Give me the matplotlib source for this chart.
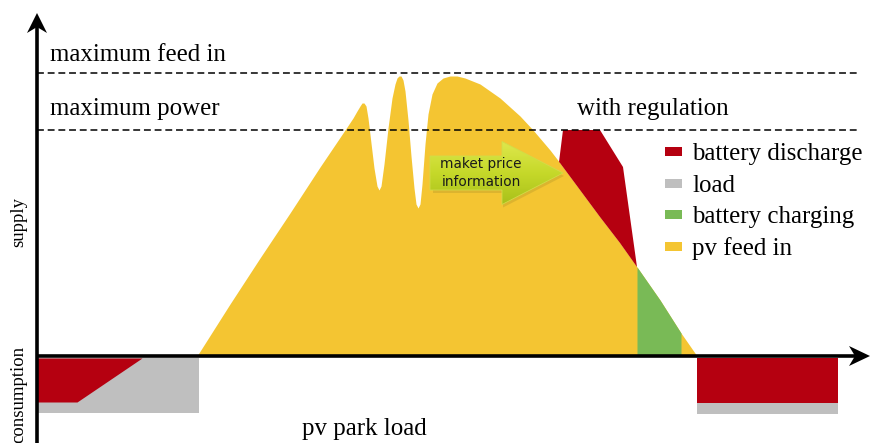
import numpy as np
import matplotlib
matplotlib.use('Agg')
import matplotlib.pyplot as plt
from matplotlib.patches import Rectangle, Polygon, FancyArrow
from matplotlib.colors import LinearSegmentedColormap

# schematic units: x = time, y = power (0 = grid axis, negative = consumption)
pv_t = [197, 230, 260, 290, 320, 345, 353, 357, 360, 362, 364, 366, 368, 371, 374, 377,
        379, 381, 384, 388, 392, 395, 397, 399, 401, 403, 405, 408, 411, 414, 416, 418,
        420, 422, 425, 428, 432, 437, 443, 450, 457, 465, 480, 500, 520, 533, 550, 560,
        580, 600, 620, 637, 660, 681, 697]
pv_p = [0, 52, 98, 143, 189, 226, 238, 245, 250, 253, 253, 250, 238, 213, 188, 170,
        166, 170, 192, 228, 258, 272, 278, 280, 280, 276, 265, 236, 200, 168, 152, 148,
        152, 172, 212, 242, 262, 273, 278, 280, 280, 278, 272, 258, 240, 226, 206, 193,
        166, 139, 113, 89, 56, 23, 0]

discharge_t = [559, 563, 600, 623, 637]
discharge_p = [194, 226, 226, 189, 89]

charge_start, charge_end = 637, 681

load_left_t = [37, 199]
load_left_p = -57
dis_left_t = [37, 77, 142]
dis_left_p = [-46, -46, -2]

load_right_t = [697, 838]
load_right_p = -58
dis_right_p = -47

max_feed_in = 283
max_power = 226

legend_labels = ['battery discharge', 'load', 'battery charging', 'pv feed in']

C_RED = '#B50010'
C_GREY = '#BFBFBF'
C_GREEN = '#79BA56'
C_YELLOW = '#F4C532'

SERIF = 'Liberation Serif'

fig = plt.figure(figsize=(8.72, 4.43), dpi=100)
ax = fig.add_axes([0, 0, 1, 1])
ax.set_xlim(0, 872)
ax.set_ylim(-87, 356)
ax.axis('off')

t = np.array(pv_t, dtype=float)
p = np.array(pv_p, dtype=float)

# pv feed in
ax.fill_between(t, 0, p, color=C_YELLOW, lw=0, zorder=2)

# battery charging (part of pv curve)
m = (t >= charge_start) & (t <= charge_end)
ax.fill_between(t[m], 0, p[m], color=C_GREEN, lw=0, zorder=3)

# battery discharge on top of pv curve
m = (t > discharge_t[0]) & (t < discharge_t[-1])
poly = list(zip(discharge_t, discharge_p)) + list(zip(t[m][::-1], p[m][::-1]))
ax.add_patch(Polygon(poly, closed=True, color=C_RED, lw=0, zorder=3))

# consumption side
ax.fill_between(load_left_t, -2, load_left_p, color=C_GREY, lw=0, zorder=2)
ax.fill_between(dis_left_t, -2, dis_left_p, color=C_RED, lw=0, zorder=3)
ax.fill_between(load_right_t, -2, load_right_p, color=C_GREY, lw=0, zorder=2)
ax.fill_between(load_right_t, -2, dis_right_p, color=C_RED, lw=0, zorder=3)

# limits
for lvl in (max_feed_in, max_power):
    ax.plot([37, 858], [lvl, lvl], color='black', lw=1.1, ls=(0, (4.5, 2.5)), zorder=4)

# axes with arrow heads
x0, y_bot, y_top, x_tip = 37, -87, 343, 870
ax.plot([x0, x0], [y_bot, y_top - 12], color='black', lw=2.6, solid_capstyle='butt', zorder=6)
ax.plot([x0, x_tip - 12], [0, 0], color='black', lw=2.6, solid_capstyle='butt', zorder=6)
ax.add_patch(Polygon([(x0, y_top), (x0 - 10, y_top - 20), (x0, y_top - 14), (x0 + 10, y_top - 20)],
                     closed=True, color='black', lw=0, zorder=6))
ax.add_patch(Polygon([(x_tip, 0), (x_tip - 21, 10), (x_tip - 15, 0), (x_tip - 21, -10)],
                     closed=True, color='black', lw=0, zorder=6))

# texts
fs = 17.9
ax.text(50, 356 - 61, 'maximum feed in', family=SERIF, fontsize=fs, va='baseline', zorder=7)
ax.text(50, 356 - 115, 'maximum power', family=SERIF, fontsize=fs, va='baseline', zorder=7)
ax.text(577, 356 - 115, 'with regulation', family=SERIF, fontsize=fs, va='baseline', zorder=7)
ax.text(302, 356 - 435, 'pv park load', family=SERIF, fontsize=fs, va='baseline', zorder=7)
ax.text(19, 356 - 222, 'supply', family=SERIF, fontsize=13.5, rotation=90,
        ha='center', va='center', zorder=7)
ax.text(19, 356 - 394, 'consumption', family=SERIF, fontsize=13.5, rotation=90,
        ha='center', va='center', zorder=7)

# legend, drawn by hand
colors = [C_RED, C_GREY, C_GREEN, C_YELLOW]
for i, (lab, c) in enumerate(zip(legend_labels, colors)):
    yc = 356 - (151.5 + i * 31.7)
    ax.add_patch(Rectangle((665, yc - 4.5), 17, 9, color=c, lw=0, zorder=7))
    ax.text(692, yc - 8.5, lab, family=SERIF, fontsize=fs, va='baseline', zorder=7)

# market price arrow with gradient fill
ay = 356 - 173
shadow = FancyArrow(433, ay - 3, 131, 0, width=34, head_width=63, head_length=61,
                    length_includes_head=True, color='#8a7a20', alpha=0.22, lw=0, zorder=7)
ax.add_patch(shadow)
arrow = FancyArrow(430, ay, 133, 0, width=34, head_width=63, head_length=61,
                   length_includes_head=True, facecolor='none', edgecolor='#d2dc48', lw=0.6, zorder=9)
ax.add_patch(arrow)
cmap = LinearSegmentedColormap.from_list('arr', ['#a8c01a', '#c6d92a', '#dfe84e'])
grad = np.linspace(0, 1, 64).reshape(-1, 1)
img = ax.imshow(grad, extent=(430, 563, ay - 32, ay + 32), origin='lower', cmap=cmap,
                aspect='auto', zorder=8)
img.set_clip_path(arrow)
ax.text(481, 356 - 168, 'maket price', family='DejaVu Sans', fontsize=9.8, ha='center',
        va='baseline', color='#1a1a1a', zorder=10)
ax.text(481, 356 - 186, 'information', family='DejaVu Sans', fontsize=9.8, ha='center',
        va='baseline', color='#1a1a1a', zorder=10)

fig.savefig('out.png', dpi=100)
